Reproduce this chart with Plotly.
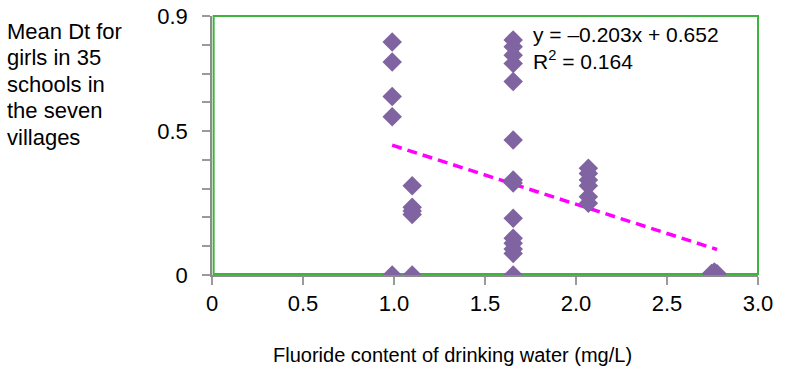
import plotly.graph_objects as go

# Data (fluoride mg/L, mean Dt for girls)
fluoride = [0.99, 0.99, 0.99, 0.99, 0.99,
            1.10, 1.10, 1.10, 1.10, 1.10,
            1.655, 1.655, 1.655, 1.655, 1.655, 1.655, 1.655, 1.655, 1.655, 1.655, 1.655, 1.655, 1.655, 1.655,
            2.068, 2.068, 2.068, 2.068, 2.068, 2.068,
            2.745, 2.76, 2.775, 2.76, 2.75]
mean_dt = [0.81, 0.74, 0.62, 0.55, 0.0,
           0.31, 0.235, 0.222, 0.21, 0.0,
           0.817, 0.793, 0.764, 0.735, 0.672, 0.469, 0.33, 0.32, 0.197, 0.128, 0.11, 0.09, 0.075, 0.0,
           0.371, 0.353, 0.33, 0.31, 0.272, 0.249,
           0.005, 0.0, 0.004, 0.01, 0.0]

slope = -0.203
intercept = 0.652
r2 = 0.164

x_ticks = [0, 0.5, 1.0, 1.5, 2.0, 2.5, 3.0]
x_ticktext = ["0", "0.5", "1.0", "1.5", "2.0", "2.5", "3.0"]
y_ticks = [0, 0.5, 0.9]
y_ticktext = ["0", "0.5", "0.9"]
y_minor_ticks = [0.1, 0.2, 0.3, 0.4, 0.6, 0.7, 0.8]

x_title = "Fluoride content of drinking water (mg/L)"
y_title_lines = ["Mean Dt for", "girls in 35", "schools in", "the seven", "villages"]
eq_text = f"y = –{abs(slope):.3f}x + {intercept:.3f}<br>R<sup>2</sup> = {r2:.3f}"

FONT = "Liberation Sans, Arial, sans-serif"

W, H = 792, 376
ML, MR, MT, MB = 212, 34, 16, 101
PW, PH = W - ML - MR, H - MT - MB


def px_to_paper_x(px):
    return (px - ML) / PW


def px_to_paper_y(py):
    return (H - MB - py) / PH


trend_x = [min(fluoride), max(fluoride)]
trend_y = [slope * v + intercept for v in trend_x]

fig = go.Figure()
fig.add_trace(go.Scatter(
    x=trend_x, y=trend_y, mode="lines",
    line=dict(color="#FF00FF", width=3.5, dash="10px,6px"),
    hoverinfo="skip", showlegend=False,
))
fig.add_trace(go.Scatter(
    x=fluoride, y=mean_dt, mode="markers",
    marker=dict(symbol="diamond", size=15, color="#8064A2", line=dict(width=0)),
    showlegend=False,
))

fig.add_shape(type="rect", xref="paper", yref="paper", x0=0.003, y0=0.004, x1=1, y1=1,
              line=dict(color="#3DB53D", width=2), layer="below")

fig.add_annotation(
    xref="paper", yref="paper", x=px_to_paper_x(531), y=px_to_paper_y(48),
    xanchor="left", yanchor="middle", text=eq_text, showarrow=False, align="left",
    font=dict(family=FONT, size=21, color="black"),
)
for i, line in enumerate(y_title_lines):
    fig.add_annotation(
        xref="paper", yref="paper", x=px_to_paper_x(5), y=px_to_paper_y(31 + 26.5 * i),
        xanchor="left", yanchor="middle", text=line, showarrow=False,
        font=dict(family=FONT, size=22, color="black"),
    )
fig.add_annotation(
    xref="paper", yref="paper", x=px_to_paper_x(452), y=px_to_paper_y(355),
    xanchor="center", yanchor="middle",
    text=x_title, showarrow=False, font=dict(family=FONT, size=20, color="black"),
)

fig.update_xaxes(
    range=[0, 3.0], tickvals=x_ticks, ticktext=x_ticktext,
    showgrid=False, zeroline=False, showline=True, linecolor="#8C8C8C", linewidth=1.5,
    ticks="outside", ticklen=8, tickcolor="#9A9A9A", tickwidth=1.5,
    tickfont=dict(family=FONT, size=22, color="black"),
)
fig.update_yaxes(
    range=[0, 0.9], tickvals=y_ticks, ticktext=y_ticktext,
    showgrid=False, zeroline=False, showline=True, linecolor="#8C8C8C", linewidth=1.5,
    ticks="outside", ticklen=8, tickcolor="#9A9A9A", tickwidth=1.5,
    tickfont=dict(family=FONT, size=22, color="black"),
    ticklabelstandoff=10,
    minor=dict(tickvals=y_minor_ticks, ticks="outside", ticklen=8,
               tickcolor="#9A9A9A", tickwidth=1.5, showgrid=False),
)

fig.update_layout(
    width=W, height=H,
    margin=dict(l=ML, r=MR, t=MT, b=MB, autoexpand=False),
    plot_bgcolor="white", paper_bgcolor="white",
    font=dict(family=FONT, size=20, color="black"),
)

fig.write_html("out.html", config={"displayModeBar": False})

# remove the default page margin so the figure sits at the window's corner
with open("out.html", "r", encoding="utf-8") as f:
    html = f.read()
html = html.replace("<head>", "<head><style>html,body{margin:0;padding:0;overflow:hidden;}</style>", 1)
with open("out.html", "w", encoding="utf-8") as f:
    f.write(html)
